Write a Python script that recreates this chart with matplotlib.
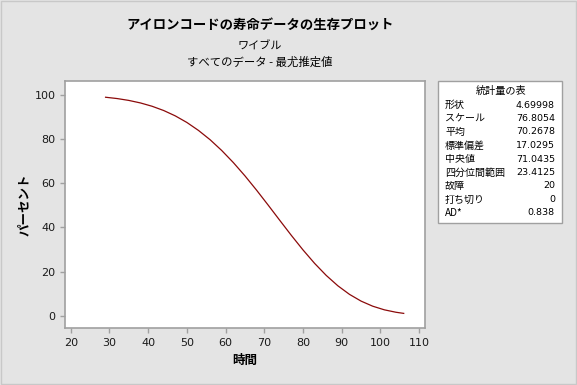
import numpy as np
import matplotlib
matplotlib.use("Agg")
import matplotlib.pyplot as plt
from matplotlib.patches import Rectangle

plt.rcParams['font.family'] = ['Noto Sans CJK JP', 'DejaVu Sans']

# survival curve (time, percent)
time = [29, 32, 35, 38, 41, 44, 47, 50, 53, 56, 59, 62, 65, 68, 71, 74,
        77, 80, 83, 86, 89, 92, 95, 98, 101, 104, 106]
percent = [98.98, 98.38, 97.54, 96.40, 94.90, 92.97, 90.54, 87.55, 83.94,
           79.73, 74.85, 69.38, 63.36, 56.88, 50.10, 43.19, 36.35, 29.79,
           23.69, 18.24, 13.55, 9.67, 6.61, 4.31, 2.67, 1.57, 1.06]

stat_names = ['形状', 'スケール', '平均', '標準偏差', '中央値', '四分位間範囲',
              '故障', '打ち切り', 'AD*']
stat_values = ['4.69998', '76.8054', '70.2678', '17.0295', '71.0435',
               '23.4125', '20', '0', '0.838']

W, H = 577, 385
fig = plt.figure(figsize=(W / 100, H / 100), dpi=100)
fig.patch.set_facecolor('#e4e4e4')


def fx(x):
    return x / W


def fy(y):
    return 1 - y / H


# outer border
fig.patches.append(Rectangle((0.001, 0.002), 0.997, 0.996, transform=fig.transFigure,
                             fill=False, edgecolor='#c8c8c8', lw=1))

ax = fig.add_axes([fx(65.3), fy(328.3), fx(425) - fx(65.3), fy(81.3) - fy(328.3)])
ax.set_facecolor('white')
ax.plot(time, percent, color='#8b0a0a', lw=0.9)

ax.set_xlim(18.6, 111.5)
ax.set_ylim(-5.7, 106.2)
ax.set_xticks(np.arange(20, 111, 10))
ax.set_yticks(np.arange(0, 101, 20))
for s in ax.spines.values():
    s.set_color('#a0a0a0')
    s.set_linewidth(1.2)
ax.tick_params(colors='#a0a0a0', labelcolor='#1a1a1a', labelsize=8,
               length=3.5, width=1)
for lab in ax.get_xticklabels() + ax.get_yticklabels():
    lab.set_family('DejaVu Sans')

fig.text(fx(245), fy(360), '時間', ha='center', va='center', fontsize=9,
         fontweight='bold')
fig.text(fx(24), fy(205), 'パーセント', ha='center', va='center', fontsize=9,
         fontweight='bold', rotation=90)

fig.text(fx(260), fy(25), 'アイロンコードの寿命データの生存プロット', ha='center',
         va='center', fontsize=9.6, fontweight='bold')
fig.text(fx(260), fy(47), 'ワイブル', ha='center', va='center', fontsize=8)
fig.text(fx(260), fy(62), 'すべてのデータ - 最尤推定値', ha='center', va='center',
         fontsize=8.2)

# statistics table
fig.patches.append(Rectangle((fx(438), fy(223)), fx(562) - fx(438), fy(81) - fy(223),
                             transform=fig.transFigure, facecolor='white',
                             edgecolor='#a0a0a0', lw=1))
fig.text(fx(501), fy(91), '統計量の表', ha='center', va='center', fontsize=7.3)
for i, (n, v) in enumerate(zip(stat_names, stat_values)):
    yy = fy(105 + i * 13.5)
    fig.text(fx(445), yy, n, ha='left', va='center', fontsize=7.2)
    fig.text(fx(555), yy, v, ha='right', va='center', fontsize=6.8,
             family='DejaVu Sans')

fig.savefig('out.png', dpi=100, facecolor=fig.get_facecolor())
